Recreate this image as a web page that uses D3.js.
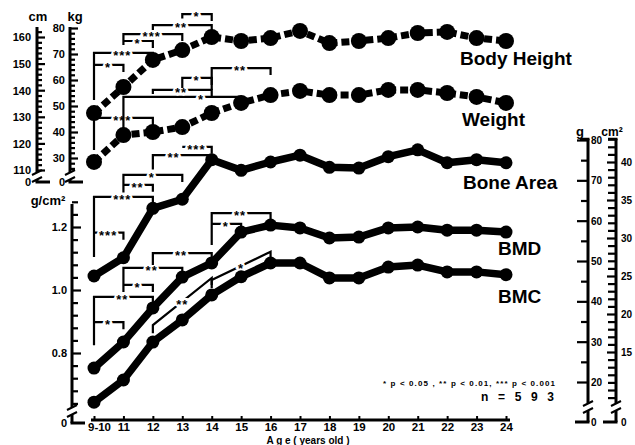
<!DOCTYPE html>
<html><head><meta charset="utf-8">
<script src="https://cdn.jsdelivr.net/npm/d3@7"></script>
<style>
body{margin:0;background:#fff}
svg{display:block;background:#fff}
text{font-family:"Liberation Sans",Arial,Helvetica,sans-serif;font-weight:bold;fill:#000}
</style></head><body>
<svg id="chart" width="635" height="445"></svg>
<script>
// ---------------- DATA ----------------
const categories = ["9-10","11","12","13","14","15","16","17","18","19","20","21","22","23","24"];
const bodyHeight = [131.4,141.2,151.4,155.1,160.0,158.5,159.6,162.3,157.7,158.5,159.6,161.5,161.9,159.6,158.5]; // cm
const weight     = [28.5,38.8,40.0,41.9,47.3,51.2,54.2,55.8,54.2,54.2,56.2,56.2,55.0,53.5,51.2];          // kg
const boneArea   = [25.0,27.4,33.9,35.1,40.3,38.9,40.0,40.9,39.3,39.2,40.7,41.6,39.9,40.3,39.9];          // cm2
const bmd        = [0.752,0.835,0.943,1.041,1.086,1.184,1.206,1.197,1.165,1.168,1.197,1.200,1.190,1.190,1.184]; // g/cm2
const bmc        = [15.0,20.5,29.9,35.4,41.6,46.1,49.5,49.5,45.8,45.8,48.5,49.0,47.3,47.3,46.6];          // g
const seriesNames = ["Body Height","Weight","Bone Area","BMD","BMC"];

const cmTicks = d3.range(110,164,2),  cmLabels = [110,120,130,140,150,160];
const kgTicks = d3.range(26,82,2),    kgLabels = [30,40,50,60,70,80];
const bmdTicks = d3.range(16,33).map(i => +(i*0.04).toFixed(2)), bmdLabels = [0.8,1.0,1.2];
const gTicks = d3.range(20,85,5),     gLabels = [20,30,40,50,60,70,80];
const cm2Ticks = d3.range(9,44,1),    cm2Labels = [15,20,25,30,35,40];
const unitLabels = ["cm","kg","g/cm²","g","cm²"];
const xTitle = "A g e ( years old )";
const footnote = "* p < 0.05 , ** p < 0.01, *** p < 0.001";
const sampleText = "n = 5 9 3";

// significance brackets (levels in each series' own units)
const heightBrackets = [
  {from:"9-10",to:"12",level:154.0,base:136.3,label:"***"},
  {from:"9-10",to:"11",level:149.5,base:null,label:"*"},
  {from:"11",to:"13",level:161.1,base:157.0,label:"***"},
  {from:"11",to:"12",level:158.5,base:null,label:"*"},
  {from:"12",to:"14",level:164.5,base:162.6,label:"**"},
  {from:"13",to:"14",level:168.6,base:167.0,label:"*"}
];
const weightBrackets = [
  {from:"9-10",to:"12",level:45.4,base:33.1,label:"***"},
  {from:"11",to:"15",level:53.5,base:40.8,label:"*",frac:0.66},
  {from:"12",to:"14",level:56.2,base:54.6,label:"**"},
  {from:"13",to:"14",level:60.8,base:56.9,label:"*"},
  {from:"14",to:"16",level:64.6,base:56.2,label:"**"}
];
const boneBrackets = [
  {from:"9-10",to:"12",level:35.4,base:27.5,label:"***"},
  {from:"9-10",to:"11",level:30.7,base:null,label:"***"},
  {from:"11",to:"13",level:38.3,base:36.0,label:"*"},
  {from:"11",to:"12",level:37.0,base:null,label:"**"},
  {from:"12",to:"14",level:40.9,base:39.0,label:"**",frac:0.35},
  {from:"13",to:"14",level:42.0,base:null,label:"***"}
];
const bmdBrackets = [
  {from:"9-10",to:"12",level:0.978,base:0.825,label:"**"},
  {from:"9-10",to:"11",level:0.898,base:null,label:"*"},
  {from:"11",to:"13",level:1.070,base:0.994,label:"**"},
  {from:"11",to:"12",level:1.016,base:null,label:"*"},
  {from:"12",to:"14",level:1.117,base:1.079,label:"**"},
  {from:"14",to:"16",level:1.244,base:1.143,label:"**"},
  {from:"14",to:"15",level:1.210,base:null,label:"*"}
];
const bmcBrackets = [
  {from:"12",to:"14",start:34.1,end:45.8,label:"**"},
  {from:"14",to:"16",start:45.3,end:52.3,label:"*"}
];

// ---------------- SCALES ----------------
const svg = d3.select("#chart");
const x = d3.scalePoint().domain(categories).range([94,506]);
const yCm  = d3.scaleLinear().domain([110,160]).range([170,37]);
const yKg  = d3.scaleLinear().domain([30,80]).range([158,28]);
const yBmd = d3.scaleLinear().domain([0.8,1.2]).range([353,227]);
const yG   = d3.scaleLinear().domain([20,80]).range([382,140]);
const yCm2 = d3.scaleLinear().domain([20,40]).range([314,162]);

const ink = "#000";

// ---------------- AXES ----------------
function breakMark(g, cx, cy){
  g.append("path").attr("d",`M${cx-5},${cy+1}L${cx+5},${cy-4}M${cx-5},${cy+8}L${cx+5},${cy+3}`)
    .attr("stroke",ink).attr("stroke-width",2).attr("fill","none");
}
function vAxis(opt){
  const g = svg.append("g");
  const ax = (opt.side==="left"? d3.axisLeft(opt.scale) : d3.axisRight(opt.scale))
     .tickValues(opt.ticks)
     .tickSizeInner(-opt.minor).tickSizeOuter(0).tickPadding(opt.pad)
     .tickFormat(d => opt.labels.some(v => Math.abs(v-d)<1e-6) ? opt.fmt(d) : "");
  const ag = g.append("g").attr("transform",`translate(${opt.x},0)`).call(ax);
  ag.select(".domain").remove();
  const dir = opt.side==="left" ? 1 : -1;
  ag.selectAll(".tick line").attr("stroke",ink).attr("stroke-width",2.2)
    .attr("x2", d => dir*(opt.labels.some(v => Math.abs(v-d)<1e-6) ? opt.major : opt.minor));
  ag.selectAll(".tick text").style("font-size",opt.fs+"px").attr("dy","0.36em");
  g.append("line").attr("x1",opt.x).attr("x2",opt.x).attr("y1",opt.top).attr("y2",opt.brk-2)
    .attr("stroke",ink).attr("stroke-width",3);
  g.append("line").attr("x1",opt.x).attr("x2",opt.x).attr("y1",opt.brk+6).attr("y2",opt.foot)
    .attr("stroke",ink).attr("stroke-width",3);
  breakMark(g,opt.x,opt.brk);
  g.append("line").attr("x1",opt.x-dir*1.5).attr("x2",opt.x+dir*13).attr("y1",opt.foot).attr("y2",opt.foot)
    .attr("stroke",ink).attr("stroke-width",3);
  g.append("text").attr("x",opt.x - dir*opt.pad).attr("y",opt.foot+4)
    .attr("text-anchor",opt.side==="left"?"end":"start").style("font-size",opt.fs+"px").text("0");
  if(opt.cap){
    g.append("line").attr("x1",opt.x+1.5).attr("x2",opt.x-8).attr("y1",opt.top).attr("y2",opt.top)
      .attr("stroke",ink).attr("stroke-width",2.5);
  }
  return g;
}
vAxis({side:"left",scale:yCm,x:37,ticks:cmTicks,labels:cmLabels,fmt:d3.format("d"),minor:5,major:8,pad:6,fs:11,top:27,brk:174,foot:182});
vAxis({side:"left",scale:yKg,x:70,ticks:kgTicks,labels:kgLabels,fmt:d3.format("d"),minor:5,major:8,pad:5,fs:11,top:27,brk:174,foot:182});
vAxis({side:"left",scale:yBmd,x:72,ticks:bmdTicks,labels:bmdLabels,fmt:d3.format(".1f"),minor:6,major:9,pad:5,fs:11,top:204,brk:409,foot:423});
vAxis({side:"right",scale:yG,x:588,ticks:gTicks,labels:gLabels,fmt:d3.format("d"),minor:7,major:11,pad:3,fs:10,top:139,brk:405,foot:422,cap:true});
vAxis({side:"right",scale:yCm2,x:616,ticks:cm2Ticks,labels:cm2Labels,fmt:d3.format("d"),minor:8,major:9,pad:5,fs:10,top:139,brk:405,foot:422,cap:true});

// unit labels
svg.append("text").attr("x",38).attr("y",21).attr("text-anchor","middle").style("font-size","13px").text(unitLabels[0]);
svg.append("text").attr("x",75).attr("y",21).attr("text-anchor","middle").style("font-size","13px").text(unitLabels[1]);
svg.append("text").attr("x",48).attr("y",205).attr("text-anchor","middle").style("font-size","13px").text(unitLabels[2]);
svg.append("text").attr("x",580).attr("y",136).attr("text-anchor","middle").style("font-size","13px").text(unitLabels[3]);
svg.append("text").attr("x",612).attr("y",136).attr("text-anchor","middle").style("font-size","12px").text(unitLabels[4]);

// x axis
const xg = svg.append("g").attr("transform","translate(0,420)")
  .call(d3.axisBottom(x).tickSizeInner(-4).tickSizeOuter(0).tickPadding(3));
xg.select(".domain").remove();
xg.selectAll(".tick line").attr("stroke",ink).attr("stroke-width",2);
xg.selectAll(".tick text").style("font-size","11.5px").attr("dx", d => d==="9-10" ? 5 : 0);
svg.append("line").attr("x1",91).attr("x2",510).attr("y1",420).attr("y2",420).attr("stroke",ink).attr("stroke-width",3);
svg.append("text").attr("x",308).attr("y",444).attr("text-anchor","middle").style("font-size","10px").text(xTitle);

// ---------------- BRACKETS ----------------
const bg = svg.append("g");
function starText(px, py){
  return bg.append("text").attr("x",px).attr("y",py+7).attr("text-anchor","middle")
    .style("font-size","13px").style("letter-spacing","1px")
    .attr("stroke","#fff").attr("stroke-width",4).attr("paint-order","stroke");
}
function drawBrackets(list, y){
  list.forEach(b => {
    const x1 = x(b.from), x2 = x(b.to), yl = y(b.level);
    let d = `M${x1},${yl}L${x2},${yl}L${x2},${yl+7}`;
    if(b.base!==null) d = `M${x1},${y(b.base)}L${x1},${yl}` + d.replace(/^M/,"L");
    bg.append("path").attr("d",d).attr("fill","none").attr("stroke",ink).attr("stroke-width",2.2);
    const f = b.frac ?? 0.48;
    starText(x1+(x2-x1)*f, yl).text(b.label);
  });
}
drawBrackets(heightBrackets,yCm);
drawBrackets(weightBrackets,yKg);
drawBrackets(boneBrackets,yCm2);
drawBrackets(bmdBrackets,yBmd);
bmcBrackets.forEach(b => {
  const x1=x(b.from), x2=x(b.to), y1=yG(b.start), y2=yG(b.end);
  bg.append("path").attr("d",`M${x1},${y1+8}L${x1},${y1}L${x2},${y2}L${x2},${y2+7}`)
    .attr("fill","none").attr("stroke",ink).attr("stroke-width",2.2);
  starText((x1+x2)/2,(y1+y2)/2).text(b.label);
});

// ---------------- SERIES ----------------
const series = [
  {name:seriesNames[0],vals:bodyHeight,y:yCm,dash:true},
  {name:seriesNames[1],vals:weight,y:yKg,dash:true},
  {name:seriesNames[2],vals:boneArea,y:yCm2,dash:false},
  {name:seriesNames[3],vals:bmd,y:yBmd,dash:false},
  {name:seriesNames[4],vals:bmc,y:yG,dash:false}
];
const sg = svg.append("g");
series.forEach(s => {
  const pts = categories.map((c,i)=>[x(c), s.y(s.vals[i])]);
  sg.append("path").attr("d",d3.line()(pts)).attr("fill","none").attr("stroke",ink)
    .attr("stroke-width",s.dash?7:7.5).attr("stroke-linejoin","round")
    .attr("stroke-dasharray",s.dash?"8,4":null);
  sg.selectAll(null).data(pts).join("circle").attr("cx",d=>d[0]).attr("cy",d=>d[1])
    .attr("r",s.dash?8:6.5).attr("fill",ink);
});

// series labels
const labPos = [[460,65],[462,126],[463,189],[498,255],[498,303]];
seriesNames.forEach((n,i)=>{
  svg.append("text").attr("x",labPos[i][0]).attr("y",labPos[i][1]).style("font-size","19px").text(n);
});

// footnote
svg.append("text").attr("x",383).attr("y",386).style("font-size","8px")
  .attr("textLength",172).attr("lengthAdjust","spacing").text(footnote);
svg.append("text").attr("x",481).attr("y",401).style("font-size","12px")
  .attr("textLength",73).attr("lengthAdjust","spacing").text(sampleText);
</script></body></html>
